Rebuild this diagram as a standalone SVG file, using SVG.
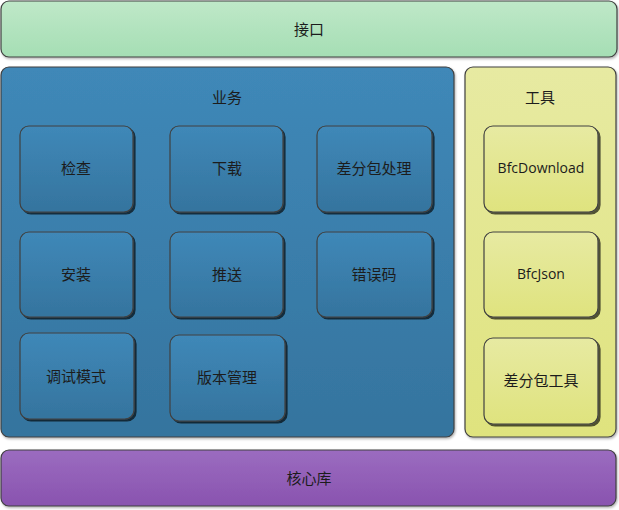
<svg xmlns="http://www.w3.org/2000/svg" width="619" height="510" viewBox="0 0 619 510">
<style>
text{font-family:"Noto Sans CJK SC","Noto Sans",sans-serif;font-size:15px;fill:#1c1c1c;text-anchor:middle;dominant-baseline:central}
.en{font-family:"Open Sans","Liberation Sans",sans-serif;font-size:14px}
.box{stroke:#404040;stroke-width:1.2}
</style>
<defs>
<linearGradient id="g" x1="0" y1="0" x2="0" y2="1"><stop offset="0" stop-color="#bfe8c8"/><stop offset="1" stop-color="#a5deb4"/></linearGradient>
<linearGradient id="b" x1="0" y1="0" x2="0" y2="1"><stop offset="0" stop-color="#3f88b8"/><stop offset="1" stop-color="#35749e"/></linearGradient>
<linearGradient id="y" x1="0" y1="0" x2="0" y2="1"><stop offset="0" stop-color="#e7eaa2"/><stop offset="1" stop-color="#dfe37e"/></linearGradient>
<linearGradient id="p" x1="0" y1="0" x2="0" y2="1"><stop offset="0" stop-color="#9b6cc0"/><stop offset="1" stop-color="#8953af"/></linearGradient>
<filter id="s" x="-10%" y="-10%" width="130%" height="130%"><feDropShadow dx="2" dy="2" stdDeviation="0.6" flood-color="#000" flood-opacity="0.65"/></filter>
<filter id="so" x="-5%" y="-5%" width="110%" height="115%"><feDropShadow dx="1" dy="1.5" stdDeviation="1" flood-color="#000" flood-opacity="0.3"/></filter>
</defs>
<g id="interface"><rect class="box" x="1" y="1" width="616" height="56" rx="8" fill="url(#g)" filter="url(#so)"/><text x="309" y="28">接口</text></g>
<g id="business"><rect class="box" x="1" y="67" width="453" height="370" rx="8" fill="url(#b)" filter="url(#so)"/><text x="227" y="96">业务</text></g>
<g id="tools"><rect class="box" x="465" y="67" width="151" height="370" rx="8" fill="url(#y)" filter="url(#so)"/><text x="540" y="96">工具</text></g>
<g id="core"><rect class="box" x="1" y="450" width="615" height="56" rx="8" fill="url(#p)" filter="url(#so)"/><text x="309" y="477">核心库</text></g>
<g id="check"><rect class="box" x="20" y="126" width="113" height="86" rx="9" fill="url(#b)" filter="url(#s)"/><text x="76" y="167">检查</text></g>
<g id="download"><rect class="box" x="170" y="126" width="113" height="86" rx="9" fill="url(#b)" filter="url(#s)"/><text x="227" y="167">下载</text></g>
<g id="diff"><rect class="box" x="317" y="126" width="115" height="86" rx="9" fill="url(#b)" filter="url(#s)"/><text x="374" y="167">差分包处理</text></g>
<g id="install"><rect class="box" x="20" y="232" width="113" height="85" rx="9" fill="url(#b)" filter="url(#s)"/><text x="76" y="273">安装</text></g>
<g id="push"><rect class="box" x="170" y="232" width="113" height="85" rx="9" fill="url(#b)" filter="url(#s)"/><text x="227" y="273">推送</text></g>
<g id="errcode"><rect class="box" x="317" y="232" width="115" height="85" rx="9" fill="url(#b)" filter="url(#s)"/><text x="374" y="273">错误码</text></g>
<g id="debug"><rect class="box" x="20" y="333" width="114" height="86" rx="9" fill="url(#b)" filter="url(#s)"/><text x="76" y="375">调试模式</text></g>
<g id="version"><rect class="box" x="170" y="335" width="115" height="86" rx="9" fill="url(#b)" filter="url(#s)"/><text x="227" y="376">版本管理</text></g>
<g id="bfcdownload"><rect class="box" x="484" y="126" width="114" height="86" rx="9" fill="url(#y)" filter="url(#s)"/><text class="en" x="541" y="167">BfcDownload</text></g>
<g id="bfcjson"><rect class="box" x="484" y="232" width="114" height="85" rx="9" fill="url(#y)" filter="url(#s)"/><text class="en" x="541" y="273">BfcJson</text></g>
<g id="difftool"><rect class="box" x="484" y="338" width="114" height="86" rx="9" fill="url(#y)" filter="url(#s)"/><text x="541" y="379">差分包工具</text></g>
<g id="connectors"/>
</svg>
